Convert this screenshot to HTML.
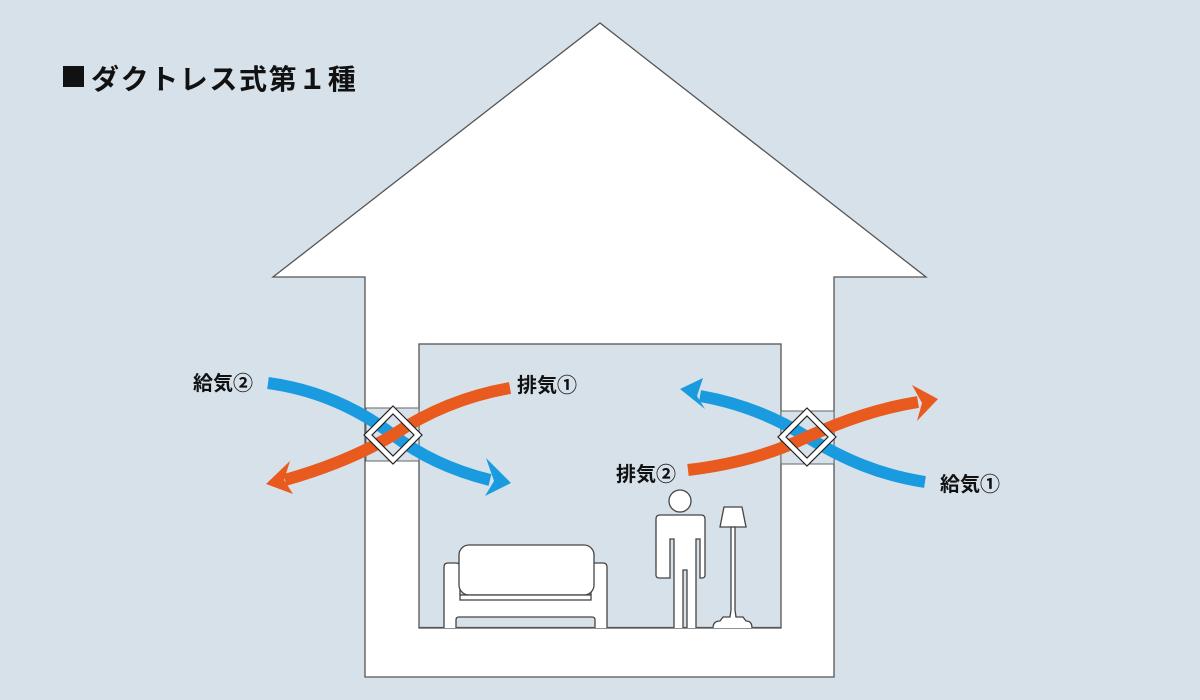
<!DOCTYPE html>
<html><head><meta charset="utf-8"><style>
html,body{margin:0;padding:0;background:#d7e1e9;}
svg{display:block}
text{font-family:"Liberation Sans","Noto Sans CJK JP",sans-serif;font-weight:bold;fill:#111;}
</style></head><body>
<svg width="1200" height="700" viewBox="0 0 1200 700" xmlns="http://www.w3.org/2000/svg">
<rect width="1200" height="700" fill="#d7e1e9"/>
<rect x="63" y="66" width="21" height="21" fill="#111"/>
<text x="91" y="89" font-size="28" letter-spacing="1.6" style="font-family:'Noto Sans CJK JP',sans-serif">ダクトレス式第１種</text>
<!-- house -->
<path d="M365,677 L365,277 L273,277 L600,23 L926,277 L834,277 L834,677 Z" fill="#fff" stroke="#555" stroke-width="1.3"/>
<rect x="419" y="344" width="362" height="284" fill="#d7e1e9" stroke="#555" stroke-width="1.3"/>
<rect x="366" y="408" width="53" height="53" fill="#d7e1e9" stroke="#666" stroke-width="1"/>
<rect x="781" y="411" width="53" height="53" fill="#d7e1e9" stroke="#666" stroke-width="1"/>
<!-- arrows left -->
<path d="M268,383 C320,390 360,410 393,435 C420,455 450,470 490,480" fill="none" stroke="#1a9be0" stroke-width="12"/>
<polygon points="486,458 511,483 485,496 494,481" fill="#1a9be0"/>
<path d="M510,388 C470,395 430,410 393,435 C360,455 320,470 285,480" fill="none" stroke="#e85a1e" stroke-width="12"/>
<polygon points="290,461 266,484 293,494 284,480" fill="#e85a1e"/>
<!-- arrows right -->
<path d="M925,482 C880,475 845,460 807,437 C775,417 740,403 700,396" fill="none" stroke="#1a9be0" stroke-width="12"/>
<polygon points="703,378 680,389 705,409 697,396" fill="#1a9be0"/>
<path d="M688,470 C730,465 770,455 807,437 C845,420 880,408 918,402" fill="none" stroke="#e85a1e" stroke-width="12"/>
<polygon points="912,385 938,399 917,421 922,403" fill="#e85a1e"/>
<!-- diamonds -->
<g fill="none" stroke="#fff" stroke-width="6">
<polygon points="393,410 418,435 393,460 368,435"/>
<polygon points="807,412 832,437 807,462 782,437"/>
</g>
<g fill="none" stroke="#222" stroke-width="1.2">
<polygon points="393,406 422,435 393,464 364,435"/>
<polygon points="393,414 414,435 393,456 372,435"/>
<polygon points="807,408 836,437 807,466 778,437"/>
<polygon points="807,416 828,437 807,458 786,437"/>
</g>
<!-- labels -->
<text x="193" y="390" font-size="20">給気②</text>
<text x="517" y="392" font-size="20">排気①</text>
<text x="616" y="481" font-size="20">排気②</text>
<text x="940" y="491" font-size="20">給気①</text>
<!-- furniture -->
<g fill="#fff" stroke="#444" stroke-width="1.3">
<path d="M444,628 L444,567 Q444,563 448,563 L456,563 Q460,563 460,567 L460,595 L591,595 L591,567 Q591,563 595,563 L603,563 Q607,563 607,567 L607,628"/>
<path d="M456,628 L456,620 Q456,617 459,617 L592,617 Q595,617 595,620 L595,628" fill="#d7e1e9"/>
<rect x="459" y="545" width="135" height="50" rx="10"/>
<rect x="460" y="595" width="131" height="5"/>
<!-- person -->
<circle cx="680" cy="501" r="11"/>
<path d="M674,628 L674,539 L670,539 L670,578 L659,578 Q656,578 656,575 L656,519 Q656,515 660,515 L701,515 Q705,515 705,519 L705,575 Q705,578 702,578 L700,578 L700,539 L696,539 L696,628"/>
<path d="M683,628 L683,570 L687,570 L687,628" fill="#d7e1e9"/>
<!-- lamp -->
<polygon points="724,507 742,507 746,527 720,527"/>
<path d="M713,628 Q713,621 720,621 L723,617 L730,617 L731,610 L731,527 L735,527 L735,610 L736,617 L743,617 L746,621 Q752,621 752,628"/>
</g>
<line x1="419" y1="627.5" x2="444" y2="627.5" stroke="#555" stroke-width="1.3"/>
<line x1="607" y1="627.5" x2="674" y2="627.5" stroke="#555" stroke-width="1.3"/>
<line x1="696" y1="627.5" x2="713" y2="627.5" stroke="#555" stroke-width="1.3"/>
<line x1="752" y1="627.5" x2="781" y2="627.5" stroke="#555" stroke-width="1.3"/>
<line x1="456" y1="627.5" x2="595" y2="627.5" stroke="#555" stroke-width="1.3"/>
<line x1="683" y1="627.5" x2="687" y2="627.5" stroke="#555" stroke-width="1.3"/>
<rect x="445" y="622" width="10" height="5.3" fill="#fff"/>
<rect x="596" y="622" width="10" height="5.3" fill="#fff"/>
</svg>
</body></html>
